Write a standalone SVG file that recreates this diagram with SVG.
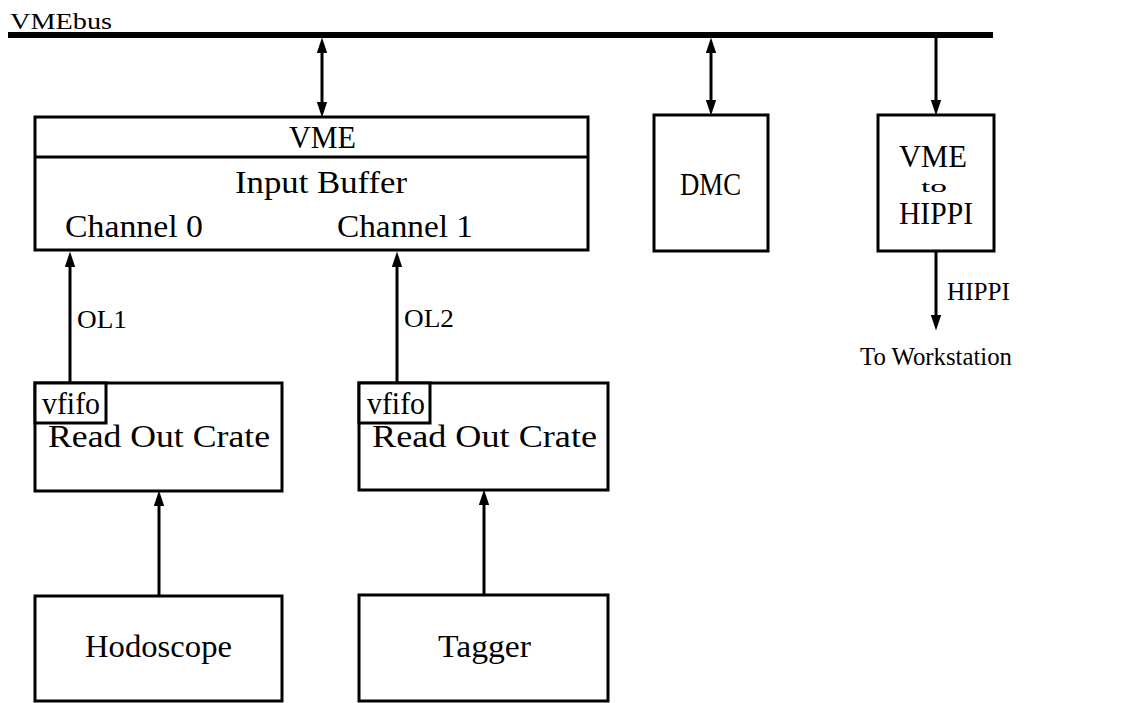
<svg xmlns="http://www.w3.org/2000/svg" width="1136" height="703" viewBox="0 0 1136 703">
  <style>
    .box { fill: #fff; stroke: #000; stroke-width: 3; }
    .rule { fill: none; stroke: #000; stroke-width: 3; }
    .link { fill: none; stroke: #000; stroke-width: 3; }
    text { font-family: "Liberation Serif", "DejaVu Serif", "Times New Roman", serif; fill: #000; }
    .big { font-size: 31px; }
    .small { font-size: 26px; }
  </style>
  <defs>
    <marker id="head" markerUnits="userSpaceOnUse" markerWidth="16" markerHeight="11" viewBox="0 0 15 10" refX="7" refY="5" orient="auto-start-reverse">
      <path d="M0,0 L15,5 L0,10 z" fill="#000"/>
    </marker>
  </defs>

  <!-- system bus -->
  <g id="vmebus">
    <line x1="8" y1="35" x2="993" y2="35" stroke="#000" stroke-width="6"/>
    <text x="10" y="29" font-size="23" textLength="102" lengthAdjust="spacingAndGlyphs">VMEbus</text>
  </g>

  <!-- input buffer board -->
  <g id="input-buffer">
    <rect class="box" x="35" y="117" width="553" height="133"/>
    <line class="rule" x1="35" y1="157" x2="588" y2="157"/>
    <text class="big" x="289" y="148" textLength="67" lengthAdjust="spacingAndGlyphs">VME</text>
    <text class="big" x="235" y="193" textLength="172" lengthAdjust="spacingAndGlyphs">Input Buffer</text>
    <text class="big" x="65" y="237" textLength="138" lengthAdjust="spacingAndGlyphs">Channel 0</text>
    <text class="big" x="337" y="237" textLength="136" lengthAdjust="spacingAndGlyphs">Channel 1</text>
  </g>

  <g id="dmc">
    <rect class="box" x="654" y="115" width="114" height="136"/>
    <text class="big" x="680" y="195" textLength="61" lengthAdjust="spacingAndGlyphs">DMC</text>
  </g>

  <g id="vme-to-hippi">
    <rect class="box" x="878" y="115" width="116" height="136"/>
    <text class="big" x="899" y="167" textLength="68" lengthAdjust="spacingAndGlyphs">VME</text>
    <text x="921" y="192" font-size="17" textLength="26" lengthAdjust="spacingAndGlyphs">to</text>
    <text class="big" x="899" y="224" textLength="74" lengthAdjust="spacingAndGlyphs">HIPPI</text>
  </g>

  <g id="workstation">
    <text class="small" x="860" y="365" textLength="152" lengthAdjust="spacingAndGlyphs">To Workstation</text>
  </g>

  <g id="readout-crate-1">
    <rect class="box" x="35" y="383" width="247" height="108"/>
    <rect class="box" x="35" y="383" width="71" height="40"/>
    <text class="big" x="42" y="414" textLength="58" lengthAdjust="spacingAndGlyphs">vfifo</text>
    <text class="big" x="48" y="447" textLength="222" lengthAdjust="spacingAndGlyphs">Read Out Crate</text>
  </g>

  <g id="readout-crate-2">
    <rect class="box" x="359" y="383" width="249" height="107"/>
    <rect class="box" x="359" y="383" width="71" height="40"/>
    <text class="big" x="367" y="414" textLength="58" lengthAdjust="spacingAndGlyphs">vfifo</text>
    <text class="big" x="372" y="447" textLength="225" lengthAdjust="spacingAndGlyphs">Read Out Crate</text>
  </g>

  <g id="hodoscope">
    <rect class="box" x="35" y="596" width="247" height="105"/>
    <text class="big" x="85" y="657" textLength="147" lengthAdjust="spacingAndGlyphs">Hodoscope</text>
  </g>

  <g id="tagger">
    <rect class="box" x="359" y="595" width="249" height="106"/>
    <text class="big" x="438" y="657" textLength="93" lengthAdjust="spacingAndGlyphs">Tagger</text>
  </g>

  <!-- connectors: lines stop 8px short of each tip, the marker supplies the rest -->
  <g id="connectors">
    <line class="link" x1="322" y1="46" x2="322" y2="109" marker-start="url(#head)" marker-end="url(#head)"/>
    <line class="link" x1="711" y1="46" x2="711" y2="107" marker-start="url(#head)" marker-end="url(#head)"/>
    <line class="link" x1="936" y1="38" x2="936" y2="107" marker-end="url(#head)"/>
    <line class="link" x1="936" y1="251" x2="936" y2="322" marker-end="url(#head)"/>
    <text class="small" x="947" y="300" textLength="63" lengthAdjust="spacingAndGlyphs">HIPPI</text>
    <line class="link" x1="70" y1="383" x2="70" y2="260" marker-end="url(#head)"/>
    <text class="small" x="77" y="328" textLength="50" lengthAdjust="spacingAndGlyphs">OL1</text>
    <line class="link" x1="397" y1="383" x2="397" y2="260" marker-end="url(#head)"/>
    <text class="small" x="404" y="327" textLength="50" lengthAdjust="spacingAndGlyphs">OL2</text>
    <line class="link" x1="159" y1="596" x2="159" y2="499" marker-end="url(#head)"/>
    <line class="link" x1="484" y1="595" x2="484" y2="498" marker-end="url(#head)"/>
  </g>
</svg>
